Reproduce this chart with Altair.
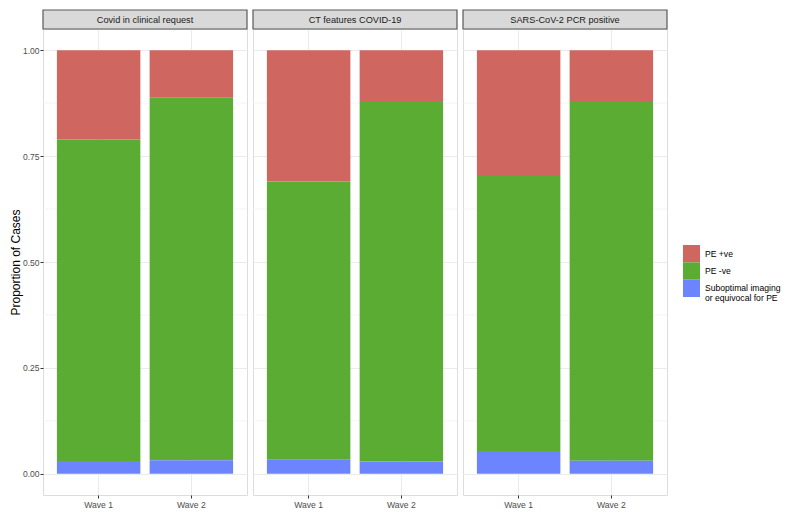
import altair as alt
import pandas as pd

panels = ["Covid in clinical request", "CT features COVID-19", "SARS-CoV-2 PCR positive"]
waves = ["Wave 1", "Wave 2"]
categories = ["PE +ve", "PE -ve", "Suboptimal imaging or equivocal for PE"]
legend_labels = ["PE +ve", "PE -ve", "Suboptimal imaging\nor equivocal for PE"]
colors = ["#CF665F", "#5BAC33", "#6C84FD"]
stack_order = [2, 1, 0]  # blue at bottom, red on top

# proportions per panel: [wave1, wave2] for each category
pe_pos = [[0.211, 0.112], [0.310, 0.120], [0.297, 0.120]]
pe_neg = [[0.759, 0.856], [0.657, 0.851], [0.649, 0.849]]
subopt = [[0.030, 0.032], [0.033, 0.029], [0.054, 0.031]]

y_ticks = [0, 0.25, 0.5, 0.75, 1.0]
minor_ticks = [0.125, 0.375, 0.625, 0.875]

W = 204
H = 466
SH = 19
FONT = "Liberation Sans"

rows = []
for p, name in enumerate(panels):
    for w, wave in enumerate(waves):
        for c, (cat, vals) in enumerate(zip(categories, [pe_pos, pe_neg, subopt])):
            rows.append({"panel": name, "wave": wave, "cat": cat,
                         "value": vals[p][w], "ord": stack_order[c]})
df = pd.DataFrame(rows)

color_scale = alt.Scale(domain=categories, range=colors)
y_scale = alt.Scale(domain=[-0.05, 1.05], nice=False, zero=False)
x_scale = alt.Scale(domain=waves, paddingInner=0.1, paddingOuter=0.15)

charts = []
for i, name in enumerate(panels):
    first = i == 0
    if first:
        yaxis = alt.Axis(values=y_ticks, format=".2f", title="Proportion of Cases",
                         tickSize=3, tickColor="#333333", labelColor="#4D4D4D",
                         labelFontSize=8.5, labelPadding=1, titleFontSize=12,
                         titleFontWeight="normal", titleColor="#000000",
                         titlePadding=0, domain=False, gridColor="#EBEBEB")
    else:
        yaxis = alt.Axis(values=y_ticks, labels=False, ticks=False, title=None,
                         domain=False, gridColor="#EBEBEB")
    xaxis = alt.Axis(title=None, labelAngle=0, tickSize=3, tickColor="#333333",
                     labelColor="#4D4D4D", labelFontSize=8.6, labelPadding=2,
                     domain=False, gridColor="#EBEBEB", bandPosition=0.5, grid=True)

    minor = alt.Chart(pd.DataFrame({"m": minor_ticks})).mark_rule(
        color="#F2F2F2", strokeWidth=0.8
    ).encode(y=alt.Y("m:Q", scale=y_scale, axis=yaxis))

    bars = alt.Chart(df[df.panel == name]).mark_bar().encode(
        x=alt.X("wave:N", scale=x_scale, axis=xaxis, sort=waves),
        y=alt.Y("value:Q", stack="zero", scale=y_scale, axis=yaxis),
        color=alt.Color("cat:N", scale=color_scale, sort=categories, legend=None),
        order=alt.Order("ord:Q", sort="ascending"),
    )

    head = pd.DataFrame({"panel": [name]})
    strip = alt.Chart(head).mark_rect(fill="#D9D9D9", stroke="#595959", strokeWidth=1.2).encode(
        x=alt.value(0), x2=alt.value(W), y=alt.value(-SH), y2=alt.value(0))
    strip_text = alt.Chart(head).mark_text(fontSize=9.2, color="#1A1A1A", font=FONT).encode(
        x=alt.value(W / 2), y=alt.value(-SH / 2), text="panel:N")

    charts.append(alt.layer(minor, bars, strip, strip_text).properties(width=W, height=H))

# manual legend panel
leg_df = pd.DataFrame({"cat": categories, "label": legend_labels})
leg_y = alt.Scale(domain=categories, range=[216, 268], paddingInner=0, paddingOuter=0)
leg_keys = alt.Chart(leg_df).mark_rect().encode(
    y=alt.Y("cat:N", scale=leg_y, axis=None, sort=categories),
    x=alt.value(10), x2=alt.value(27),
    color=alt.Color("cat:N", scale=color_scale, legend=None),
)
leg_text = alt.Chart(leg_df).mark_text(
    align="left", baseline="middle", fontSize=8.6, color="#000000", font=FONT,
    lineBreak="\n", lineHeight=9.5
).encode(
    y=alt.Y("cat:N", scale=leg_y, axis=None, sort=categories, bandPosition=0.5),
    x=alt.value(32), text="label:N",
)
legend = alt.layer(leg_keys, leg_text).properties(
    width=60, height=H, view=alt.ViewBackground(stroke="transparent"))

chart = alt.hconcat(*charts, legend, spacing=6, bounds="flush").properties(
    padding={"left": 0, "top": 0, "right": 0, "bottom": 0}
).configure_view(stroke="#595959", strokeWidth=1.2).configure(
    font=FONT
).configure_axis(labelFont=FONT, titleFont=FONT)

chart.save("out.html", embed_options={"renderer": "svg", "actions": False})
